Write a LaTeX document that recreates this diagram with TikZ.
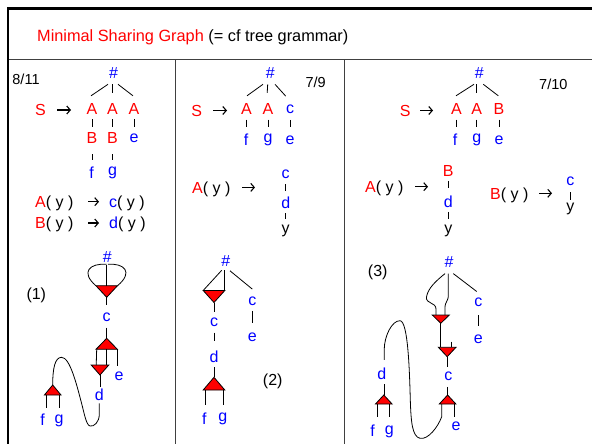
\documentclass[tikz,border=0pt]{standalone}
\usepackage{fontspec}
\setmainfont{Liberation Sans}
\usetikzlibrary{arrows.meta}
\definecolor{rd}{RGB}{255,0,0}
\definecolor{bl}{RGB}{0,0,255}
\newcommand\mytri[5]{%
  \path ({#2},{#3}) coordinate (#1m) ({#2-#4},{#3}) coordinate (#1l)
        ({#2+#4},{#3}) coordinate (#1r) ({#2},{#3+(#5)}) coordinate (#1a);
  \filldraw[tri] (#1l) -- (#1r) -- (#1a) -- cycle;}
\begin{document}
\begin{tikzpicture}[x=1pt,y=-1pt,
  lbl/.style={inner sep=0pt, font=\fontsize{16}{19}\selectfont, text height=11.4pt, text depth=0pt},
  rdl/.style={lbl,text=rd}, bll/.style={lbl,text=bl}, bkl/.style={lbl,text=black},
  frac/.style={inner sep=0pt, font=\fontsize{14.5}{17}\selectfont, text height=10.3pt, text depth=0pt},
  edge/.style={line width=0.8pt, draw=black},
  tk/.style 2 args={edge, shorten <=#1, shorten >=#2},
  tri/.style={fill=rd, draw=black, line width=0.8pt, line join=miter},
  symarr/.style={line width=1.1pt, -{Straight Barb[length=3.5pt,width=8pt]}},
  thick frame/.style={line width=2.5pt, draw=black, line join=miter},
  thin frame/.style={line width=1pt, draw=black!75}]
\useasboundingbox (0,0) rectangle (592,444);
% frame
\draw[thin frame] (7.8,60) -- (592,60);
\draw[thin frame] (175.8,60) -- (175.8,444);
\draw[thin frame] (344.7,60) -- (344.7,444);
\draw[thick frame] (7.8,444) -- (7.8,8.7) -- (592,8.7);
\node[anchor=west, inner sep=0pt, font=\fontsize{16.3}{19}\selectfont, text height=11.7pt, text depth=0pt] (title) at (37,35.8) {\textcolor{rd}{Minimal Sharing Graph} (= cf tree grammar)};

% ================= column 1 =================
\node[frac] (n1) at (26,79) {8/11};
\node[bll] (h1) at (113.5,72.7) {\#};
\node[rdl] (s1) at (40.5,110) {S};
\coordinate (ar1a) at (57,110); \coordinate (ar1b) at (71,110);
\draw[symarr] (ar1a) -- (ar1b);
\node[rdl] (a11) at (92,109) {A};
\node[rdl] (a12) at (112.5,109) {A};
\node[rdl] (a13) at (134,109) {A};
\node[rdl] (b11) at (92,138) {B};
\node[rdl] (b12) at (112.5,138) {B};
\node[bll] (e1) at (134,136.8) {e};
\node[bll] (f1) at (91.5,172.5) {f};
\node[bll] (g1) at (112.5,170) {g};
\draw[edge] ([xshift=-5.5pt,yshift=-5.7pt]h1.south) -- ([xshift=-1pt,yshift=7.3pt]a11.north);
\draw[edge] ([xshift=-1.5pt,yshift=-5.7pt]h1.south) -- ([xshift=-0.5pt,yshift=10.3pt]a12.north);
\draw[edge] ([xshift=4.5pt,yshift=-5.7pt]h1.south) -- ([xshift=-1pt,yshift=7.3pt]a13.north);
\draw[tk={4.3pt}{5.3pt}] (a11) -- (a11 |- b11.north);
\draw[tk={4.3pt}{5.3pt}] (a12) -- (a12 |- b12.north);
\draw[tk={4.3pt}{4.1pt}] (a13) -- (a13 |- e1.north);
\draw[tk={10.3pt}{6.8pt}] (b11) -- (b11 |- f1.north);
\draw[tk={10.3pt}{4.3pt}] (b12) -- (b12 |- g1.north);
% rules
\node[bkl, anchor=west] (r11) at (35,201.7) {\textcolor{rd}{A}( y )};
\coordinate (ar2a) at (88,201.7); \coordinate (ar2b) at (99,201.7);
\draw[symarr] (ar2a) -- (ar2b);
\node[bkl, anchor=west] (r12) at (109,201.7) {\textcolor{bl}{c}( y )};
\node[bkl, anchor=west] (r13) at (35,223) {\textcolor{rd}{B}( y )};
\coordinate (ar3a) at (88,223); \coordinate (ar3b) at (99,223);
\draw[symarr] (ar3a) -- (ar3b);
\node[bkl, anchor=west] (r14) at (109,223) {\textcolor{bl}{d}( y )};

% ================= column 2 =================
\node[frac] (n2) at (315.7,82) {7/9};
\node[bll] (h2) at (270.3,72.7) {\#};
\node[rdl] (s2) at (196.7,110.7) {S};
\coordinate (ar4a) at (213,110.5); \coordinate (ar4b) at (227,110.5);
\draw[symarr] (ar4a) -- (ar4b);
\node[rdl] (a21) at (246.5,109) {A};
\node[rdl] (a22) at (268,109) {A};
\node[bll] (c21) at (290,107.8) {c};
\node[bll] (f2) at (246,140) {f};
\node[bll] (g2) at (268,137) {g};
\node[bll] (e2) at (290,138.5) {e};
\draw[edge] ([xshift=-7.3pt,yshift=-5.7pt]h2.south) -- ([xshift=0.5pt,yshift=7.3pt]a21.north);
\draw[edge] ([xshift=-2.6pt,yshift=-5.7pt]h2.south) -- ([xshift=-0.8pt,yshift=10.3pt]a22.north);
\draw[edge] ([xshift=4.7pt,yshift=-5.7pt]h2.south) -- ([xshift=-4.3pt,yshift=5.8pt]c21.north);
\draw[tk={4.6pt}{7.6pt}] (a21) -- (a21 |- f2.north);
\draw[tk={4.6pt}{4.6pt}] (a22) -- (a22 |- g2.north);
\draw[tk={6.1pt}{6.1pt}] (c21) -- (c21 |- e2.north);
\node[bkl, anchor=west] (r21) at (192,187.4) {\textcolor{rd}{A}( y )};
\coordinate (ar5a) at (242,187.4); \coordinate (ar5b) at (255,187.4);
\draw[symarr] (ar5a) -- (ar5b);
\node[bll] (c22) at (285.7,172.5) {c};
\node[bll] (d2) at (285.7,203) {d};
\node[bkl] (y2) at (285.7,228) {y};
\draw[tk={5.8pt}{6.3pt}] (c22) -- (c22 |- d2.north);
\draw[tk={4.3pt}{3.3pt}] (d2) -- (d2 |- y2.north);

% ================= column 3 =================
\node[frac] (n3) at (553.3,84) {7/10};
\node[bll] (h3) at (479.3,72.7) {\#};
\node[rdl] (s3) at (405.3,110.7) {S};
\coordinate (ar6a) at (420,110.5); \coordinate (ar6b) at (433,110.5);
\draw[symarr] (ar6a) -- (ar6b);
\node[rdl] (a31) at (456.5,108.7) {A};
\node[rdl] (a32) at (476.7,108.7) {A};
\node[rdl] (b31) at (499,108.7) {B};
\node[bll] (f3) at (455,140) {f};
\node[bll] (g3) at (476.7,137) {g};
\node[bll] (e3) at (499,138.5) {e};
\draw[edge] ([xshift=-5.3pt,yshift=-5.7pt]h3.south) -- ([xshift=-0.5pt,yshift=7pt]a31.north);
\draw[edge] ([xshift=-2.6pt,yshift=-5.7pt]h3.south) -- ([yshift=10pt]a32.north);
\draw[edge] ([xshift=4pt,yshift=-5.7pt]h3.south) -- ([xshift=-0.7pt,yshift=7pt]b31.north);
\draw[tk={4.9pt}{7.6pt}] (a31) -- (a31 |- f3.north);
\draw[tk={4.9pt}{4.6pt}] (a32) -- (a32 |- g3.north);
\draw[tk={4.9pt}{6.1pt}] (b31) -- (b31 |- e3.north);
\node[bkl, anchor=west] (r31) at (365,186.7) {\textcolor{rd}{A}( y )};
\coordinate (ar7a) at (415,186.7); \coordinate (ar7b) at (428,186.7);
\draw[symarr] (ar7a) -- (ar7b);
\node[rdl] (b32) at (448.3,170.8) {B};
\node[bll] (d3) at (448.3,201.3) {d};
\node[bkl] (y3) at (448.3,228) {y};
\draw[tk={4.2pt}{7.3pt}] (b32) -- (b32 |- d3.north);
\draw[tk={4.7pt}{3pt}] (d3) -- (d3 |- y3.north);
\node[bkl, anchor=west] (r32) at (490,193.3) {\textcolor{rd}{B}( y )};
\coordinate (ar8a) at (539,193.3); \coordinate (ar8b) at (552,193.3);
\draw[symarr] (ar8a) -- (ar8b);
\node[bll] (c33) at (570.3,179.5) {c};
\node[bkl] (y4) at (570.3,205.5) {y};
\draw[tk={6.8pt}{0pt}] (c33) -- (c33 |- y4.north);

% ================= panel (1) =================
\node[bkl] (p1) at (36.3,293.3) {(1)};
\node[bll] (h4) at (107.4,256.7) {\#};
\node[bll] (c4) at (106.7,316) {c};
\node[bll] (e4) at (119,375) {e};
\node[bll] (d4) at (99.3,394.3) {d};
\node[bll] (f4) at (42.7,420) {f};
\node[bll] (g4) at (59,417.5) {g};
\mytri{ta}{106.7}{285.7}{10.8}{11.6}
\mytri{tb}{106.7}{349.3}{10.7}{-11}
\mytri{tc}{100}{365}{8.8}{10}
\mytri{td}{52.7}{395}{8.3}{-10}
\draw[edge, shorten <=2.2pt] (tam |- h4.south) -- (tam);
\draw[edge] ([xshift=-0.9pt,yshift=-1.7pt]h4.south) .. controls (90,263) and (80,272) .. (tal);
\draw[edge] ([xshift=0.6pt,yshift=-1.7pt]h4.south) .. controls (124,263) and (134,272) .. (tar);
\draw[edge, shorten >=5.2pt] (taa) -- (taa |- c4.north);
\draw[edge, shorten <=5.7pt] (c4) -- (tba);
\path ([xshift=-10pt]tbm) coordinate (tb1) ([xshift=5pt]tcl) coordinate (tc1) ([xshift=6.7pt]tcm) coordinate (tc2);
\draw[edge] (tb1) -- (tc1);
\draw[edge] (tbm) -- (tc2);
\draw[edge, shorten >=3.3pt] (tbr) -- (tbr |- e4.north);
\draw[edge, shorten >=1.7pt] (tca) -- (tca |- d4.north);
\draw[edge, shorten <=3.2pt] (d4.south) -- ++(0,14.2)
  .. controls (99.3,422) and (94,427) .. (90,426)
  .. controls (86,425) and (84,412) .. (81.5,403)
  .. controls (77,386) and (70,357) .. (61.5,357.3)
  .. controls (55,357.5) and (52.7,368) .. (tda);
\path ([xshift=2.3pt]tdl) coordinate (td1) ([xshift=-1.7pt]tdr) coordinate (td2);
\draw[edge, shorten >=6.3pt] (td1) -- (td1 |- f4.north);
\draw[edge, shorten >=3.8pt] (td2) -- (td2 |- g4.north);

% ================= panel (2) =================
\node[bkl] (p2) at (272.7,380) {(2)};
\node[bll] (h5) at (225.7,260.7) {\#};
\node[bll] (c5) at (252.3,299.5) {c};
\node[bll] (e5) at (252.3,335.8) {e};
\node[bll] (c6) at (214,320.6) {c};
\node[bll] (d5) at (214,357) {d};
\node[bll] (f5) at (204.3,418.3) {f};
\node[bll] (g5) at (222.7,415.8) {g};
\mytri{te}{214}{290.5}{10.8}{12}
\mytri{tf}{214}{390}{10.8}{-12.7}
\draw[edge] ([xshift=-4pt,yshift=-3.7pt]h5.south) -- (tel);
\draw[edge] ([xshift=-0.9pt,yshift=-3.7pt]h5.south) -- (ter);
\draw[edge] ([xshift=4.3pt,yshift=-4.2pt]h5.south) -- ([yshift=4.5pt]c5.north);
\draw[tk={5.5pt}{6.8pt}] (c5) -- (c5 |- e5.north);
\draw[edge, shorten >=2.8pt] (tea) -- (tea |- c6.north);
\draw[tk={6.2pt}{10.6pt}] (c6) -- (c6 |- d5.north);
\draw[edge, shorten <=4.3pt] (d5) -- (tfa);
\path ([xshift=2.5pt]tfl) coordinate (tf1) ([xshift=-1.5pt]tfr) coordinate (tf2);
\draw[edge, shorten >=7.6pt] (tf1) -- (tf1 |- f5.north);
\draw[edge, shorten >=5.1pt] (tf2) -- (tf2 |- g5.north);

% ================= panel (3) =================
\node[bkl] (p3) at (377.7,271) {(3)};
\node[bll] (h6) at (449,261.7) {\#};
\node[bll] (c7) at (478.3,300.8) {c};
\node[bll] (e7) at (478.3,337.8) {e};
\node[bll] (c8) at (448.3,375.2) {c};
\node[bll] (e8) at (456,424.5) {e};
\node[bll] (d6) at (381.7,374) {d};
\node[bll] (f6) at (372.7,430.7) {f};
\node[bll] (g6) at (389.3,429) {g};
\mytri{tg}{440.8}{315}{8.5}{8.3}
\mytri{th}{447.2}{347.3}{8.8}{9.4}
\mytri{ti}{447.6}{404}{8.3}{-9}
\mytri{tj}{383.8}{404}{8.3}{-9}
\draw[edge] ([xshift=4.3pt,yshift=-6pt]h6.south) -- ([xshift=-1.6pt,yshift=3.4pt]c7.north);
\draw[tk={8.5pt}{6.1pt}] (c7) -- (c7 |- e7.north);
\path ([xshift=-4.8pt]tgm) coordinate (tg1) ([xshift=4.2pt]tgm) coordinate (tg2);
\draw[edge] ([xshift=-4pt,yshift=-6pt]h6.south) .. controls (436,281) and (428,288) .. (426.5,297)
  .. controls (425.5,304) and (436,302) .. (436,309) -- (tg1);
\draw[edge] ([xshift=-0.7pt,yshift=-6pt]h6.south) -- (448.3,295)
  .. controls (448.3,302) and (445,301) .. (445,308) -- (tg2);
\draw[edge] (tga) -- (tga |- thm);
\coordinate (stub) at (451.7,341.7);
\draw[edge] (stub) -- (stub |- thm);
\draw[edge, shorten >=2.7pt] (tha) -- (tha |- c8.north);
\draw[edge, shorten <=5.7pt] (tia |- c8.south) -- (tia);
\path ([xshift=-1.9pt]tir) coordinate (ti2) ([xshift=2.4pt]til) coordinate (ti1);
\draw[edge, shorten >=2.1pt] (ti2) -- (ti2 |- e8.north);
\path ([xshift=2.5pt]d6.north) coordinate (d6n) ([xshift=2.5pt]d6.south) coordinate (d6s);
\draw[edge, shorten >=8.3pt] (ti1) -- ++(0,12.7)
  .. controls (438,427) and (428,440) .. (420,438.3)
  .. controls (412,436.5) and (411,421) .. (410.3,400)
  .. controls (409.5,370) and (408,321) .. (400,320.7)
  .. controls (392,320.5) and (384.2,336) .. (384.2,350) -- (d6n);
\draw[edge, shorten <=4.3pt] (d6s) -- (d6s |- tja);
\path ([xshift=1.5pt]tjl) coordinate (tj1) ([xshift=-2.8pt]tjr) coordinate (tj2);
\draw[edge, shorten >=8.3pt] (tj1) -- (tj1 |- f6.north);
\draw[edge, shorten >=6.6pt] (tj2) -- (tj2 |- g6.north);
\end{tikzpicture}
\end{document}
